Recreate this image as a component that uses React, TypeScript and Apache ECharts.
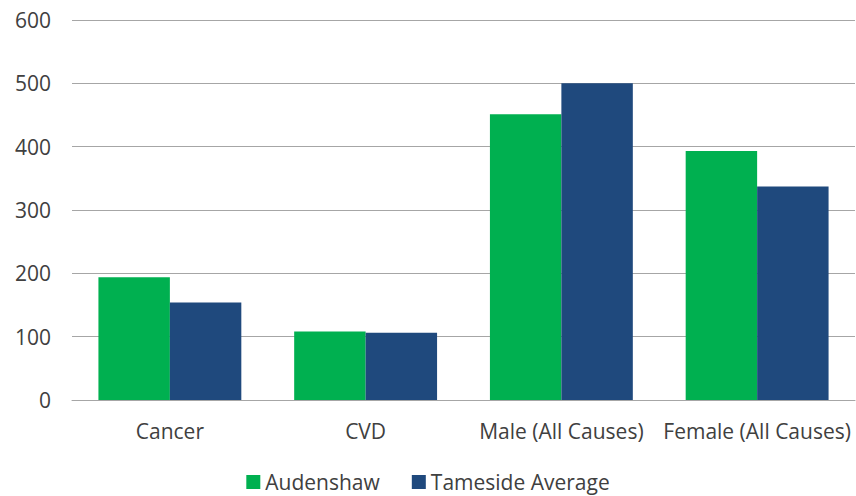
import React, { useEffect, useRef } from "react";
import * as echarts from "echarts";

const categories = ["Cancer", "CVD", "Male (All Causes)", "Female (All Causes)"];
const audenshaw = [194, 108, 451, 393];
const tameside = [154, 106, 500, 337];
const seriesNames = ["Audenshaw", "Tameside Average"];

export default function App() {
  const ref = useRef<HTMLDivElement>(null);
  useEffect(() => {
    document.body.style.margin = "0";
    const chart = echarts.init(ref.current!, null, { renderer: "svg" });
    const font = "'Open Sans', 'Liberation Sans', sans-serif";
    chart.setOption({
      animation: false,
      backgroundColor: "#ffffff",
      grid: { left: 72, right: 1, top: 20, bottom: 96, containLabel: false },
      legend: {
        bottom: 1,
        left: "center",
        padding: 0,
        itemWidth: 14,
        itemHeight: 14,
        itemGap: 32,
        icon: "rect",
        textStyle: { fontFamily: font, fontSize: 21, color: "#404040", lineHeight: 26 },
        data: seriesNames,
      },
      xAxis: {
        type: "category",
        data: categories,
        axisLine: { lineStyle: { color: "#A6A6A6", width: 1 } },
        axisTick: { show: false },
        axisLabel: { interval: 0, fontFamily: font, fontSize: 21, color: "#404040", margin: 20 },
      },
      yAxis: {
        type: "value",
        min: 0,
        max: 600,
        interval: 100,
        axisLine: { show: false },
        axisTick: { show: false },
        splitLine: { lineStyle: { color: "#A6A6A6", width: 1 } },
        axisLabel: { fontFamily: font, fontSize: 21, color: "#404040", margin: 21 },
      },
      series: [
        {
          name: seriesNames[0],
          type: "bar",
          data: audenshaw,
          itemStyle: { color: "#00B050" },
          barGap: "0%",
          barCategoryGap: "27%",
        },
        {
          name: seriesNames[1],
          type: "bar",
          data: tameside,
          itemStyle: { color: "#1F497D" },
          barGap: "0%",
          barCategoryGap: "27%",
        },
      ],
    });
    return () => chart.dispose();
  }, []);
  return (
    <div
      ref={ref}
      style={{ position: "absolute", left: 0, top: 0, width: 856, height: 496 }}
    />
  );
}
